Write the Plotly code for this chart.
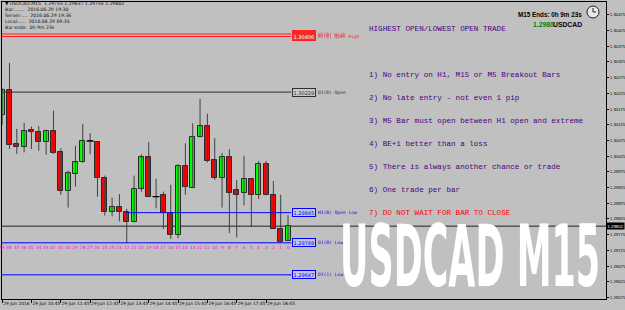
import plotly.graph_objects as go

# ---------------- data ----------------
bar_no = [39, 38, 37, 36, 35, 34, 33, 32, 31, 30, 29, 28, 27, 26, 25, 24, 23, 22, 21, 20,
          19, 18, 17, 16, 15, 14, 13, 12, 11, 10, 9, 8, 7, 6, 5, 4, 3, 2, 1, 0]
opens = [1.30157, 1.30236, 1.30063, 1.30054, 1.30108, 1.30102, 1.30070, 1.30106, 1.30038, 1.29914,
         1.29968, 1.30006, 1.30073, 1.30070, 1.29955, 1.29847, 1.29863, 1.29847, 1.29815, 1.29919,
         1.30022, 1.29896, 1.29900, 1.29843, 1.29774, 1.29994, 1.29925, 1.30085, 1.30121, 1.30013,
         1.29954, 1.30022, 1.29918, 1.29909, 1.29953, 1.29900, 1.29999, 1.29902, 1.29794, 1.29755]
highs = [1.30242, 1.30322, 1.30112, 1.30131, 1.30119, 1.30121, 1.30109, 1.30170, 1.30050, 1.29979,
         1.30058, 1.30127, 1.30098, 1.30071, 1.29963, 1.29893, 1.29904, 1.29857, 1.29963, 1.30031,
         1.30070, 1.29953, 1.29912, 1.29934, 1.30000, 1.30066, 1.30130, 1.30207, 1.30160, 1.30082,
         1.30035, 1.30047, 1.29949, 1.30026, 1.29953, 1.30010, 1.30010, 1.29946, 1.29902, 1.29837]
lows = [1.30125, 1.30048, 1.30032, 1.30037, 1.30048, 1.30042, 1.30029, 1.30032, 1.29902, 1.29861,
        1.29928, 1.30004, 1.30031, 1.29896, 1.29836, 1.29833, 1.29817, 1.29749, 1.29814, 1.29912,
        1.29895, 1.29859, 1.29793, 1.29761, 1.29764, 1.29902, 1.29923, 1.30084, 1.30005, 1.29949,
        1.29861, 1.29780, 1.29766, 1.29868, 1.29799, 1.29888, 1.29900, 1.29794, 1.29749, 1.29755]
closes = [1.30236, 1.30061, 1.30055, 1.30106, 1.30101, 1.30071, 1.30106, 1.30035, 1.29915, 1.29971,
          1.30006, 1.30074, 1.30073, 1.29955, 1.29847, 1.29863, 1.29847, 1.29815, 1.29919, 1.30022,
          1.29896, 1.29896, 1.29845, 1.29774, 1.29994, 1.29928, 1.30086, 1.30121, 1.30011, 1.29954,
          1.30022, 1.29909, 1.29902, 1.29953, 1.29900, 1.29999, 1.29900, 1.29794, 1.29750, 1.29802]

xtick_bars = [39, 35, 31, 27, 23, 19, 15, 11, 7, 3]
xtick_labels = ["29 Jun 2016", "29 Jun 10:45", "29 Jun 11:45", "29 Jun 12:45", "29 Jun 13:45",
                "29 Jun 14:45", "29 Jun 15:45", "29 Jun 16:45", "29 Jun 17:45", "29 Jun 18:45"]
ytick_vals = [1.29575, 1.29625, 1.29675, 1.29725, 1.29775, 1.29825, 1.29875, 1.29925, 1.29975,
              1.30025, 1.30075, 1.30125, 1.30175, 1.30225, 1.30275, 1.30325, 1.30375, 1.30425, 1.30475]
ytick_labels = ["1.29575", "1.29625", "1.29675", "1.29725", "1.29775", "1.29825", "1.29875", "1.29925",
                "1.29975", "1.30025", "1.30075", "1.30125", "1.30175", "1.30225", "1.30275", "1.30325",
                "1.30375", "1.30425", "1.30475"]

bid = 1.29802
level_names = ["H1(0) High", "H1(0) Open High", "D1(0) Open", "H1(0) Open Low", "D1(0) Low", "D1(1) Low"]
level_prices = [1.30414, 1.30406, 1.30229, 1.29845, 1.29749, 1.29647]
level_start_bar = [39.1, 39.1, 39.1, 22.2, 39.1, 39.1]
level_kind = ["red", "red", "black", "blue", "blue", "blue"]

rules_title = "HIGHEST OPEN/LOWEST OPEN TRADE"
rules = ["1) No entry on H1, M15 or M5 Breakout Bars",
         "2) No late entry - not even 1 pip",
         "3) M5 Bar must open between H1 open and extreme",
         "4) BE+1 better than a loss",
         "5) There is always another chance or trade",
         "6) One trade per bar",
         "7) DO NOT WAIT FOR BAR TO CLOSE"]

info_lines = ["\u25BC USDCAD,M15  1.29755 1.29837 1.29755 1.29802",
              "Bar:.......  2016.06.29 19:30",
              "Server:....  2016.06.29 19:36",
              "Local:.....  2016.06.29 09:35",
              "Bar ends:  0h 9m 23s"]

# ---------------- layout helpers ----------------
W, H = 625, 310
PL, PR, PT, PB = 2, 606, 2, 299


def fx(px):
    return (px - PL) / (PR - PL)


def fy(py):
    return (PB - py) / (PB - PT)


BG = "#C0C0C0"
GREEN = "#00FF00"
RED = "#FF0000"
OUT = "#2A2A2A"
BLUE = "#0000FF"
INDIGO = "#4B0082"
MAG = "#FF00FF"
kind_col = {"red": "#FF2020", "black": "#303030", "blue": BLUE}
kind_bg = {"red": "#F08080", "black": "#C8C8C8", "blue": "#C4C4E6"}

xs = [-n for n in bar_no]

fig = go.Figure()

# wicks
wx, wy = [], []
for x, h, l in zip(xs, highs, lows):
    wx += [x, x, None]
    wy += [h, l, None]
fig.add_trace(go.Scatter(x=wx, y=wy, mode="lines", line=dict(color="#404040", width=1),
                         hoverinfo="skip", showlegend=False))

# bodies
body_col = [GREEN if c > o else RED for o, c in zip(opens, closes)]
fig.add_trace(go.Bar(x=xs, y=[c - o for o, c in zip(opens, closes)], base=opens, width=0.68,
                     marker=dict(color=body_col, line=dict(color=OUT, width=1)),
                     showlegend=False, hoverinfo="skip"))

# doji bars
dx = [x for x, o, c in zip(xs, opens, closes) if o == c]
dy = [o for o, c in zip(opens, closes) if o == c]
fig.add_trace(go.Scatter(x=dx, y=dy, mode="markers",
                         marker=dict(symbol="line-ew", size=5, line=dict(color="#000000", width=1.2)),
                         showlegend=False, hoverinfo="skip"))

shapes = []
ann = []

# bid line
shapes.append(dict(type="line", xref="paper", x0=0, x1=1, yref="y", y0=bid, y1=bid,
                   line=dict(color="#202020", width=1), layer="below"))

# levels
for name, p, sb, k in zip(level_names, level_prices, level_start_bar, level_kind):
    shapes.append(dict(type="line", xref="x", x0=-sb, x1=0.45, yref="y", y0=p, y1=p,
                       line=dict(color=kind_col[k], width=1)))
    ann.append(dict(x=0.6, y=p, xref="x", yref="y", xanchor="left", yanchor="middle",
                    text=f"{p:.5f}", showarrow=False,
                    font=dict(size=5, color="#FFFFFF" if k == "red" else kind_col[k], family="DejaVu Sans"),
                    bgcolor=kind_bg[k] if k != "red" else "#E83030", bordercolor=kind_col[k],
                    borderwidth=1, borderpad=0.5))
    ann.append(dict(x=3.8, y=p, xref="x", yref="y", xanchor="left", yanchor="middle",
                    text=name, showarrow=False,
                    font=dict(size=4.6, color=kind_col[k], family="DejaVu Sans Mono")))

# candle numbers
d1_low = level_prices[4]
for n, x in zip(bar_no, xs):
    ann.append(dict(x=x, y=d1_low, xref="x", yref="y", xanchor="center", yanchor="top",
                    yshift=-0.5, text=str(n), showarrow=False,
                    font=dict(size=4.4, color=MAG, family="DejaVu Sans")))

# current price box
ann.append(dict(x=1, y=bid, xref="paper", yref="y", xanchor="left", yanchor="middle",
                text=f"{bid:.5f}", showarrow=False, xshift=0,
                font=dict(size=4.3, color="#FFFFFF", family="Liberation Sans"),
                bgcolor="#000000", borderpad=0.5))

# big watermark
ann.append(dict(x=fx(470), y=fy(257), xref="paper", yref="paper", xanchor="center", yanchor="middle",
                text="<b>USDCAD M15</b>", showarrow=False,
                font=dict(size=35, color="#FFFFFF", family="DejaVu Sans")))

# rules text
ann.append(dict(x=fx(367), y=fy(29), xref="paper", yref="paper", xanchor="left", yanchor="middle",
                text=rules_title, showarrow=False,
                font=dict(size=7.6, color=INDIGO, family="Liberation Mono")))
rule_py = [75, 98, 121, 144, 167, 190, 213]
for i, (t, py) in enumerate(zip(rules, rule_py)):
    ann.append(dict(x=fx(367), y=fy(py), xref="paper", yref="paper", xanchor="left", yanchor="middle",
                    text=t, showarrow=False,
                    font=dict(size=7.6, color=RED if i == len(rules) - 1 else INDIGO, family="Liberation Mono")))

# top-left info
for i, t in enumerate(info_lines):
    ann.append(dict(x=fx(3), y=fy(4 + 5.8 * i), xref="paper", yref="paper", xanchor="left",
                    yanchor="middle", text=t, showarrow=False,
                    font=dict(size=4.6, color="#101010", family="DejaVu Sans")))

# top-right timer
ann.append(dict(x=fx(584), y=fy(14), xref="paper", yref="paper", xanchor="right", yanchor="middle",
                text="<b>M15 Ends: 0h 9m 23s</b>", showarrow=False,
                font=dict(size=6.3, color="#000000", family="Liberation Sans")))
ann.append(dict(x=fx(556), y=fy(25), xref="paper", yref="paper", xanchor="right", yanchor="middle",
                text="<b>1.2980</b>", showarrow=False,
                font=dict(size=6.8, color="#008000", family="Liberation Sans")))
ann.append(dict(x=fx(584), y=fy(25), xref="paper", yref="paper", xanchor="right", yanchor="middle",
                text="<b>USDCAD</b>", showarrow=False,
                font=dict(size=6.8, color="#000000", family="Liberation Sans")))

# clock icon
shapes.append(dict(type="circle", xref="paper", yref="paper", x0=fx(587), x1=fx(599), y0=fy(18), y1=fy(6),
                   line=dict(color="#202020", width=1), fillcolor="#E8E8E8"))
shapes.append(dict(type="line", xref="paper", yref="paper", x0=fx(593), x1=fx(593), y0=fy(12), y1=fy(8),
                   line=dict(color="#202020", width=1)))
shapes.append(dict(type="line", xref="paper", yref="paper", x0=fx(593), x1=fx(596), y0=fy(12), y1=fy(12),
                   line=dict(color="#202020", width=1)))

fig.update_layout(
    width=W, height=H,
    margin=dict(l=PL, r=W - PR, t=PT, b=H - PB),
    paper_bgcolor=BG, plot_bgcolor=BG,
    showlegend=False, bargap=0,
    shapes=shapes, annotations=ann,
    xaxis=dict(range=[-39.02, 43.38], showgrid=False, zeroline=False, showline=True, mirror=True,
               linecolor="#000000", linewidth=1, ticks="outside", ticklen=3, tickcolor="#000000",
               tickvals=[-b for b in xtick_bars], ticktext=xtick_labels, tickangle=0,
               ticklabelposition="outside right", automargin=False, ticklabelstandoff=0,
               tickfont=dict(size=4.4, color="#000000", family="DejaVu Sans")),
    yaxis=dict(range=[1.29570, 1.30516], side="right", showgrid=False, zeroline=False, showline=True,
               mirror=True, linecolor="#000000", linewidth=1, ticks="outside", ticklen=2,
               tickcolor="#000000", tickvals=ytick_vals, ticktext=ytick_labels, automargin=False,
               ticklabelstandoff=0,
               tickfont=dict(size=4.3, color="#000000", family="Liberation Sans")),
)

post = """
var gd = document.getElementById('{plot_id}');
function stretch(){
  gd.querySelectorAll('text.annotation-text').forEach(function(t){
    if (t.textContent === 'USDCAD M15') {
      t.removeAttribute('transform');
      var b = t.getBBox();
      var cx = b.x + b.width/2, cy = b.y + b.height/2;
      t.setAttribute('transform', 'translate(' + cx + ',' + cy + ') scale(1,2.45) translate(' + (-cx) + ',' + (-cy) + ')');
    }
  });
}
stretch();
gd.on('plotly_afterplot', stretch);
"""

fig.write_html("out.html", post_script=post)
